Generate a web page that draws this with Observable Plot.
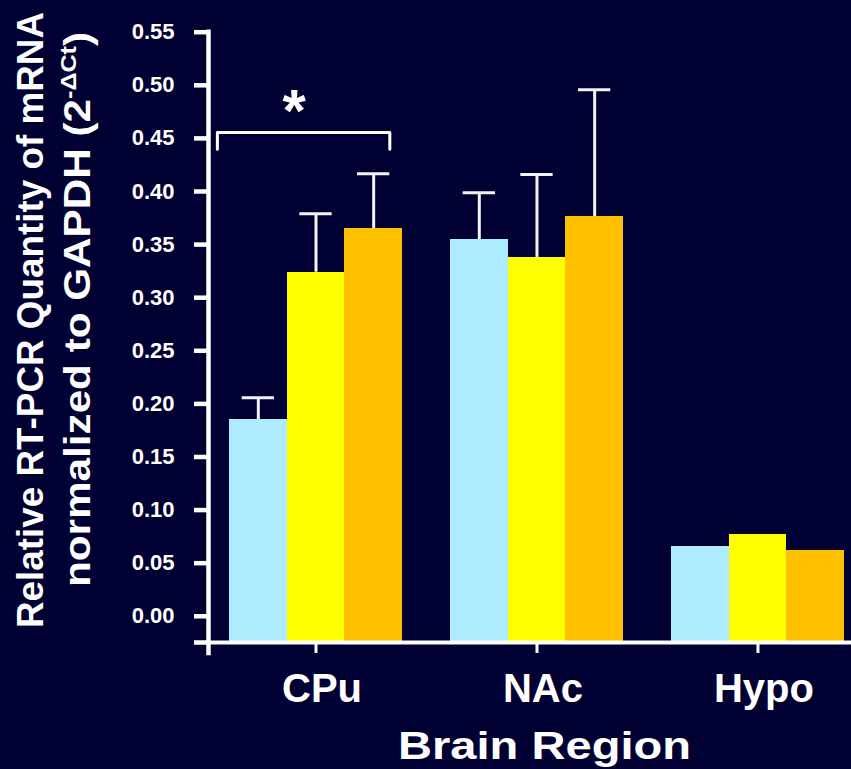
<!DOCTYPE html>
<html><head><meta charset="utf-8">
<script src="https://cdn.jsdelivr.net/npm/d3@7"></script>
<script src="https://cdn.jsdelivr.net/npm/@observablehq/plot@0.6"></script>
<style>
html,body{margin:0;padding:0;background:#000033;}
#chart{width:851px;height:769px;overflow:hidden;}
</style>
</head><body><div id="chart"></div>
<script>
// ---- data ----
const regions = ["CPu", "NAc", "Hypo"];
const seriesNames = ["Series 1", "Series 2", "Series 3"];
const seriesColors = ["#AEEBFF", "#FFFF00", "#FFC000"];
const series1 = [0.1853, 0.3548, 0.0657];
const series2 = [0.3240, 0.3379, 0.0770];
const series3 = [0.3650, 0.3765, 0.0620];
const err1 = [0.0204, 0.0440, null];
const err2 = [0.0550, 0.0781, null];
const err3 = [0.0517, 0.1193, null];
const yTicks = [0, 0.05, 0.10, 0.15, 0.20, 0.25, 0.30, 0.35, 0.40, 0.45, 0.50, 0.55];

// ---- layout (in x units = one bar width) ----
const Y_MIN = -0.0247, Y_MAX = 0.55, Y_AXIS_BOTTOM = -0.035;
const GROUP_STEP = 3.832;
const X_LEFT = -0.364, X_RIGHT = 10.786;
// significance bracket over CPu, in data units
const bracketX = [-0.21, 2.78];
const bracketY = [0.4398, 0.4556];
const starPos = {x: 1.12, y: 0.475};
const CAP = 0.28;

const values = [series1, series2, series3];
const errs = [err1, err2, err3];
const rows = [];
regions.forEach((r, ri) => seriesNames.forEach((s, si) => {
  const x0 = ri * GROUP_STEP + si;
  rows.push({region: r, series: s, x0, x1: x0 + 1, xm: x0 + 0.5, value: values[si][ri], err: errs[si][ri]});
}));
const errRows = rows.filter(d => d.err != null);
const groupCenters = regions.map((r, ri) => ri * GROUP_STEP + 1.5);
const centerName = new Map(groupCenters.map((c, i) => [c, regions[i]]));
const bracket = [
  {x: bracketX[0], y: bracketY[0]},
  {x: bracketX[0], y: bracketY[1]},
  {x: bracketX[1], y: bracketY[1]},
  {x: bracketX[1], y: bracketY[0]}
];

const chart = Plot.plot({
  width: 851, height: 769,
  marginLeft: 208, marginRight: 0, marginTop: 31.7, marginBottom: 127,
  style: {background: "#000033", color: "#fff", fontFamily: "'Liberation Sans', Arial, sans-serif", fontWeight: "bold", overflow: "visible"},
  x: {domain: [X_LEFT, X_RIGHT], axis: null},
  y: {domain: [Y_MIN, Y_MAX], axis: null},
  color: {domain: seriesNames, range: seriesColors},
  marks: [
    Plot.rectY(rows, {x1: "x0", x2: "x1", y1: Y_MIN, y2: "value", fill: "series", shapeRendering: "crispEdges"}),
    Plot.ruleX(errRows, {x: "xm", y1: "value", y2: d => d.value + d.err, stroke: "#f4f4f4", strokeWidth: 3}),
    Plot.ruleY(errRows, {y: d => d.value + d.err, x1: d => d.xm - CAP, x2: d => d.xm + CAP, stroke: "#f4f4f4", strokeWidth: 3}),
    Plot.line(bracket, {x: "x", y: "y", stroke: "#fff", strokeWidth: 3, strokeLinejoin: "round"}),
    Plot.text([{...starPos, t: "*"}], {x: "x", y: "y", text: "t", fill: "#fff", fontSize: 60, fontWeight: "bold"}),
    // axes
    Plot.axisY([...yTicks, Y_MIN], {anchor: "left", tickSize: 14, tickPadding: 20, strokeWidth: 4.5, stroke: "#fff", fill: "#fff", fontSize: 22, fontWeight: "bold", tickFormat: d => d < 0 ? "" : d3.format(".2f")(d), label: null}),
    Plot.ruleX([X_LEFT], {y1: Y_AXIS_BOTTOM, y2: Y_MAX, stroke: "#fff", strokeWidth: 4.5, strokeLinecap: "square"}),
    Plot.ruleY([Y_MIN], {stroke: "#fff", strokeWidth: 4}),
    Plot.ruleX(groupCenters, {y1: Y_MIN, y2: Y_AXIS_BOTTOM, stroke: "#fff", strokeWidth: 3}),
    Plot.axisX(groupCenters, {anchor: "bottom", tickSize: 0, tickPadding: 31, dx: 6, fontSize: 40, fontWeight: "bold", fill: "#fff", tickFormat: d => centerName.get(d), label: null})
  ]
});
document.getElementById("chart").appendChild(chart);

// axis titles
const svg = d3.select(chart);
const ff = "'Liberation Sans', Arial, sans-serif";
svg.append("text").attr("transform", "translate(43,320) rotate(-90)")
  .attr("text-anchor", "middle").attr("fill", "#fff").attr("font-family", ff)
  .attr("font-weight", "bold").attr("font-size", 37)
  .attr("textLength", 616).attr("lengthAdjust", "spacingAndGlyphs")
  .text("Relative RT-PCR Quantity of mRNA");
const l2 = svg.append("text").attr("transform", "translate(90,309.5) rotate(-90)")
  .attr("text-anchor", "middle").attr("fill", "#fff").attr("font-family", ff)
  .attr("font-weight", "bold").attr("font-size", 37)
  .attr("textLength", 555).attr("lengthAdjust", "spacingAndGlyphs");
l2.append("tspan").text("normalized to GAPDH (2");
l2.append("tspan").attr("font-size", 22).attr("dy", -14).text("-ΔCt");
l2.append("tspan").attr("dy", 14).text(")");
svg.append("text").attr("x", 544.5).attr("y", 759)
  .attr("text-anchor", "middle").attr("fill", "#fff").attr("font-family", ff)
  .attr("font-weight", "bold").attr("font-size", 39)
  .attr("textLength", 293).attr("lengthAdjust", "spacingAndGlyphs")
  .text("Brain Region");
</script>
</body></html>
